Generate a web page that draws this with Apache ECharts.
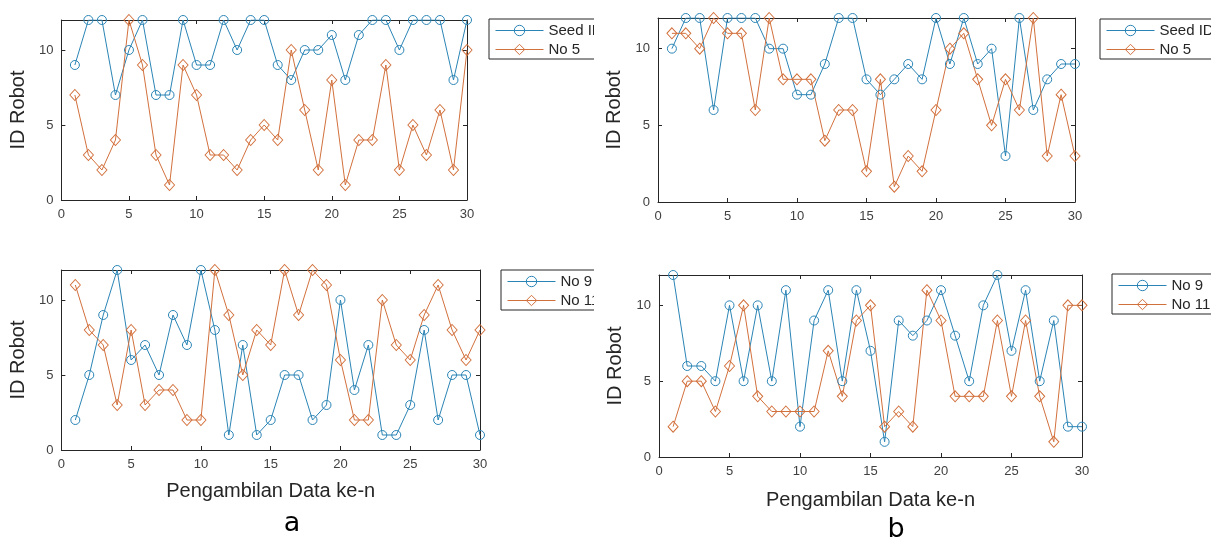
<!DOCTYPE html>
<html>
<head>
<meta charset="utf-8">
<script src="https://cdn.jsdelivr.net/npm/echarts@6/dist/echarts.min.js"></script>
<style>
body{margin:0;background:#fff;}
#wrap{position:relative;width:1211px;height:539px;overflow:hidden;}
#chart_a{position:absolute;left:0;top:0;width:594px;height:539px;}
#chart_b{position:absolute;left:594px;top:0;width:617px;height:539px;}
</style>
</head>
<body>
<div id="wrap">
  <div id="chart_a"></div>
  <div id="chart_b"></div>
</div>
<script>
// x = pengambilan data ke-n
const xRuns = [1,2,3,4,5,6,7,8,9,10,11,12,13,14,15,16,17,18,19,20,21,22,23,24,25,26,27,28,29,30];
const xTicks = [0,5,10,15,20,25,30];
const yTicks = [0,5,10];

// gambar a
const aSeedID = [9,12,12,7,10,12,7,7,12,9,9,12,10,12,12,9,8,10,10,11,8,11,12,12,10,12,12,12,8,12];
const aNo5    = [7,3,2,4,12,9,3,1,9,7,3,3,2,4,5,4,10,6,2,8,1,4,4,9,2,5,3,6,2,10];
const aNo9    = [2,5,9,12,6,7,5,9,7,12,8,1,7,1,2,5,5,2,3,10,4,7,1,1,3,8,2,5,5,1];
const aNo11   = [11,8,7,3,8,3,4,4,2,2,12,9,5,8,7,12,9,12,11,6,2,2,10,7,6,9,11,8,6,8];

// gambar b
const bSeedID = [10,12,12,6,12,12,12,10,10,7,7,9,12,12,8,7,8,9,8,12,9,12,9,10,3,12,6,8,9,9];
const bNo5    = [11,11,10,12,11,11,6,12,8,8,8,4,6,6,2,8,1,3,2,6,10,11,8,5,8,6,12,3,7,3];
const bNo9    = [12,6,6,5,10,5,10,5,11,2,9,11,5,11,7,1,9,8,9,11,8,5,10,12,7,11,5,9,2,2];
const bNo11   = [2,5,5,3,6,10,4,3,3,3,3,7,4,9,10,2,3,2,11,9,4,4,4,9,4,9,4,1,10,10];

const BLUE = '#2a84b5';
const ORANGE = '#d2703c';
const AXIS = '#262626';

function pairs(vals){
  return xRuns.map((x,i)=>[x, vals[i]]);
}

function lineSeries(name, vals, color, symbol, size, gi){
  return {
    name: name,
    type: 'line',
    xAxisIndex: gi*2,
    yAxisIndex: gi*2,
    data: pairs(vals),
    symbol: symbol,
    symbolSize: size,
    showAllSymbol: true,
    lineStyle: {color: color, width: 1},
    itemStyle: {color: 'rgba(255,255,255,0)', borderColor: color, borderWidth: 1},
    emphasis: {disabled: true}
  };
}

function buildOption(cfg){
  let grid = [], xAxis = [], yAxis = [], legend = [], series = [];
  cfg.grids.forEach((g,gi)=>{
    grid.push({left: g.left, top: g.top, width: g.width, height: g.height});
    xAxis.push({
      type: 'value', gridIndex: gi, min: 0, max: 30, interval: 5, position: 'bottom',
      name: g.xName || '', nameLocation: 'middle', nameGap: g.xGap || 30,
      nameTextStyle: {fontSize: 20, color: AXIS, fontFamily: 'Liberation Sans'},
      axisLine: {onZero: false, lineStyle: {color: AXIS, width: 1}},
      axisTick: {inside: true, length: 4, lineStyle: {color: AXIS}},
      axisLabel: {margin: 8, fontSize: 13, color: '#404040', fontFamily: 'Liberation Sans',
        formatter: v => xTicks.indexOf(v) >= 0 ? String(v) : ''},
      splitLine: {show: false}
    });
    xAxis.push({
      type: 'value', gridIndex: gi, min: 0, max: 30, interval: 5, position: 'top',
      axisLine: {onZero: false, lineStyle: {color: AXIS, width: 1}},
      axisTick: {inside: true, length: 4, lineStyle: {color: AXIS}},
      axisLabel: {show: false}, splitLine: {show: false}
    });
    yAxis.push({
      type: 'value', gridIndex: gi, min: 0, max: 12, interval: 5, position: 'left',
      name: 'ID Robot', nameLocation: 'middle', nameGap: 30,
      nameTextStyle: {fontSize: 20, color: AXIS, fontFamily: 'Liberation Sans'},
      axisLine: {show: true, onZero: false, lineStyle: {color: AXIS, width: 1}},
      axisTick: {show: true, inside: true, length: 4, lineStyle: {color: AXIS}},
      axisLabel: {margin: 8, fontSize: 13, color: '#404040', fontFamily: 'Liberation Sans',
        formatter: v => yTicks.indexOf(v) >= 0 ? String(v) : ''},
      splitLine: {show: false}
    });
    yAxis.push({
      type: 'value', gridIndex: gi, min: 0, max: 12, interval: 5, position: 'right',
      axisLine: {show: true, onZero: false, lineStyle: {color: AXIS, width: 1}},
      axisTick: {show: true, inside: true, length: 4, lineStyle: {color: AXIS}},
      axisLabel: {show: false}, splitLine: {show: false}
    });
    legend.push({
      orient: 'vertical', align: 'left',
      left: g.legLeft, top: g.legTop,
      data: [g.s1.name, g.s2.name],
      itemWidth: 48, itemHeight: 13, itemGap: 4,
      padding: [4, 10, 2, 6],
      lineStyle: {width: 1},
      itemStyle: {borderWidth: 1},
      borderColor: AXIS, borderWidth: 1, backgroundColor: '#fff',
      textStyle: {fontSize: 15, color: AXIS, fontFamily: 'Liberation Sans'},
      selectedMode: false
    });
    series.push(lineSeries(g.s1.name, g.s1.data, BLUE, 'circle', 9, gi));
    series.push(lineSeries(g.s2.name, g.s2.data, ORANGE, 'diamond', [10, 11], gi));
  });
  return {
    animation: false,
    grid: grid, xAxis: xAxis, yAxis: yAxis, legend: legend, series: series,
    graphic: [{
      type: 'text', x: cfg.label.x, y: cfg.label.y,
      style: {text: cfg.label.text, fontSize: 27, fill: '#000', fontFamily: 'DejaVu Sans',
        textAlign: 'center', textVerticalAlign: 'middle'}
    }]
  };
}

let chartA = echarts.init(document.getElementById('chart_a'));
chartA.setOption(buildOption({
  grids: [
    {left: 57, top: 20, width: 410, height: 180, legLeft: 489, legTop: 19,
      s1: {name: 'Seed ID', data: aSeedID}, s2: {name: 'No 5', data: aNo5}},
    {left: 57, top: 270, width: 423, height: 180, legLeft: 501, legTop: 270,
      xName: 'Pengambilan Data ke-n', xGap: 31,
      s1: {name: 'No 9', data: aNo9}, s2: {name: 'No 11', data: aNo11}}
  ],
  label: {text: 'a', x: 292, y: 524}
}));

let chartB = echarts.init(document.getElementById('chart_b'));
chartB.setOption(buildOption({
  grids: [
    {left: 64, top: 18, width: 417, height: 184, legLeft: 506, legTop: 19,
      s1: {name: 'Seed ID', data: bSeedID}, s2: {name: 'No 5', data: bNo5}},
    {left: 65, top: 275, width: 423, height: 182, legLeft: 518, legTop: 274,
      xName: 'Pengambilan Data ke-n', xGap: 33,
      s1: {name: 'No 9', data: bNo9}, s2: {name: 'No 11', data: bNo11}}
  ],
  label: {text: 'b', x: 302, y: 530}
}));
</script>
</body>
</html>
